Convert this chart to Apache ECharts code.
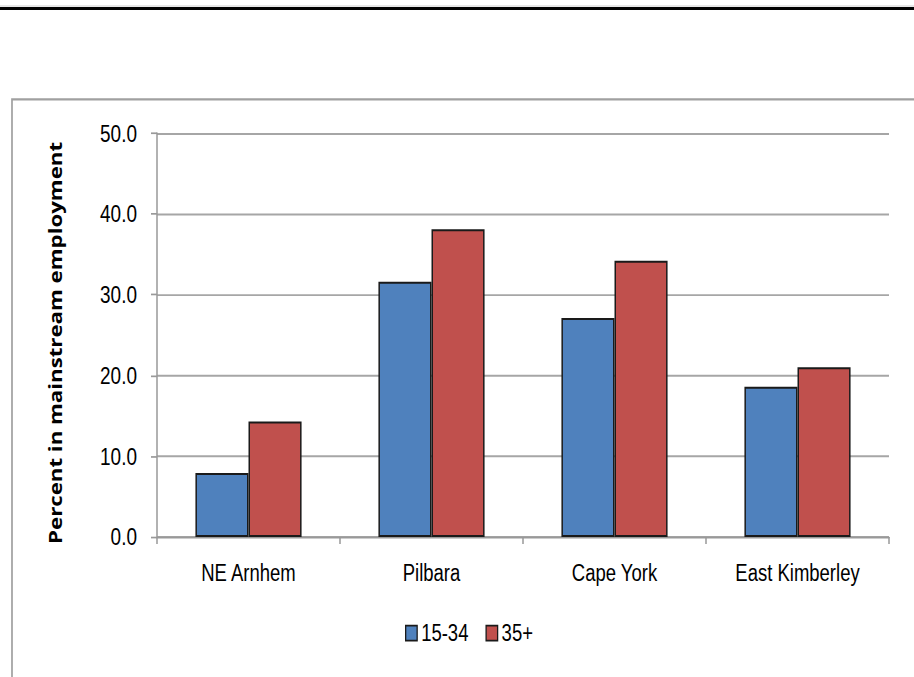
<!DOCTYPE html>
<html>
<head>
<meta charset="utf-8">
<script src="https://cdn.jsdelivr.net/npm/echarts@6/dist/echarts.min.js"></script>
<style>
  html, body { margin: 0; padding: 0; background: #fff; }
  #page { width: 914px; height: 677px; position: relative; }
  /* the chart is laid out on a shorter canvas and stretched vertically */
  #chart { position: absolute; left: 0; top: 0; width: 914px; height: 520.77px; transform: scaleY(1.3); transform-origin: 0 0; }
</style>
</head>
<body>
<div id="page"><div id="chart"></div></div>
<script>
// Regions and employment shares by age group
const regions = ['NE Arnhem', 'Pilbara', 'Cape York', 'East Kimberley'];
const youngShare = [7.9, 31.6, 27.1, 18.6];   // 15-34
const olderShare = [14.3, 38.1, 34.2, 21.0];  // 35+
const seriesNames = ['15-34', '35+'];
const yTicks = [0, 10, 20, 30, 40, 50];
const yTitle = 'Percent in mainstream employment';

const labelFont = '"Liberation Sans", Arial, sans-serif';
const labelSize = 18.5;

const chart = echarts.init(document.getElementById('chart'), null, { renderer: 'svg' });

chart.setOption({
  backgroundColor: '#ffffff',
  animation: false,
  graphic: [
    // rule across the top of the page
    { type: 'line', silent: true, shape: { x1: 0, y1: 4.6, x2: 914, y2: 4.6 }, style: { stroke: '#d0d0d0', lineWidth: 0.8 } },
    { type: 'line', silent: true, shape: { x1: 0, y1: 6.6, x2: 914, y2: 6.6 }, style: { stroke: '#000000', lineWidth: 2.3 } },
    // chart frame
    { type: 'rect', silent: true, shape: { x: 12, y: 76.5, width: 960, height: 600 }, style: { fill: 'none', stroke: '#a0a0a0', lineWidth: 1.7 } },
    // value axis title
    {
      type: 'text', silent: true, x: 56, y: 263.8, rotation: Math.PI / 2,
      style: {
        text: yTitle, fill: '#000', fontFamily: '"Open Sans", sans-serif', fontWeight: 'bold', fontSize: 17.1,
        align: 'center', verticalAlign: 'middle'
      }
    }
  ],
  grid: { left: 157, right: 25, top: 102.5, bottom: 108, containLabel: false },
  legend: {
    data: seriesNames,
    left: 405,
    top: 477.5,
    padding: 0,
    itemWidth: 11.5,
    itemHeight: 11.5,
    itemGap: 17,
    icon: 'rect',
    itemStyle: { borderColor: '#1a1a1a', borderWidth: 1.3 },
    textStyle: { fontFamily: labelFont, fontSize: labelSize, color: '#000', padding: [0, 0, 0, -1] }
  },
  xAxis: {
    type: 'category',
    data: regions,
    axisLine: { lineStyle: { color: '#999999', width: 1.4 } },
    axisTick: { show: true, interval: 0, length: 5.4, alignWithLabel: false, lineStyle: { color: '#999999', width: 1.5 } },
    axisLabel: { interval: 0, fontFamily: labelFont, fontSize: labelSize, color: '#000', margin: 18.5 },
    splitLine: { show: false }
  },
  yAxis: {
    type: 'value',
    min: yTicks[0],
    max: yTicks[yTicks.length - 1],
    interval: 10,
    axisLine: { show: true, lineStyle: { color: '#999999', width: 1.5 } },
    axisTick: { show: true, length: 6, lineStyle: { color: '#999999', width: 1.3 } },
    axisLabel: { fontFamily: labelFont, fontSize: labelSize + 0.5, color: '#000', margin: 20, formatter: v => v.toFixed(1) },
    splitLine: { show: true, lineStyle: { color: '#a6a6a6', width: 1.5 } }
  },
  series: [
    {
      name: seriesNames[0],
      type: 'bar',
      data: youngShare,
      barCategoryGap: '42%',
      barGap: '0%',
      itemStyle: { color: '#4F81BD', borderColor: '#1a1a1a', borderWidth: 1.5 }
    },
    {
      name: seriesNames[1],
      type: 'bar',
      data: olderShare,
      barCategoryGap: '42%',
      barGap: '0%',
      itemStyle: { color: '#C0504D', borderColor: '#1a1a1a', borderWidth: 1.5 }
    }
  ]
});
</script>
</body>
</html>
